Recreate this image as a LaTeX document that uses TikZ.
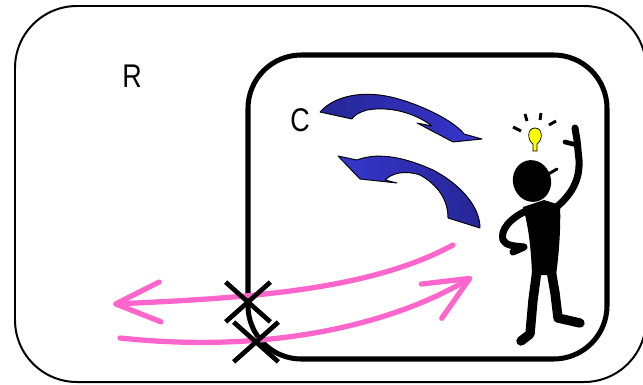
\documentclass[tikz,border=0pt]{standalone}
\usepackage{fontspec}
\setmainfont{Liberation Sans}
\usetikzlibrary{arrows.meta,shapes.misc}
\definecolor{pinkline}{RGB}{255,102,204}
\definecolor{ribbon}{RGB}{54,54,206}
\definecolor{ribbondark}{RGB}{38,38,150}
\definecolor{bulbyellow}{RGB}{255,255,0}

\begin{document}
\begin{tikzpicture}[x=0.03cm, y=-0.03cm,
    letter/.style={font=\fontsize{28}{32}\selectfont, inner sep=0pt},
    pinkarrow/.style={draw=pinkline, line width=4.5pt, line cap=round,
        -{Straight Barb[length=38pt,width=34pt,round]}},
    stopmark/.style={cross out, draw, line width=4pt, minimum width=1.2cm,
        minimum height=1.05cm, inner sep=0pt},
    ribbonarrow/.style={draw=black, line width=0.8pt, line join=round},
    limb/.style={line width=6pt, line cap=round, line join=round}]

    \useasboundingbox (0,0) rectangle (643,384);

    % Rahmen aussen und innen
    \draw[line width=1.7pt, rounded corners=1.86cm] (15,6) rectangle (646,382);
    \draw[line width=4.3pt, rounded corners=1.6cm] (248,55) rectangle (607,359);

    % Beschriftungen
    \node[letter] (R) at (132,76) {\scalebox{0.82}[1]{R}};
    \node[letter] (C) at (300,120) {\scalebox{0.82}[1]{C}};

    % blaue Pfeile
    \draw[ribbonarrow, left color=ribbondark, right color=ribbon]
        (320,112) .. controls (335,95) and (365,90) .. (395,98)
        .. controls (425,106) and (455,122) .. (464,134)
        -- (482,139) -- (453,142) -- (417,123) -- (432,126)
        .. controls (415,113) and (390,106) .. (367,110)
        .. controls (360,112) and (354,115) .. (352,119) -- cycle;
    \draw[ribbonarrow, left color=ribbon, right color=ribbondark]
        (338,156) -- (357,160)
        .. controls (375,153) and (400,155) .. (433,170)
        .. controls (458,183) and (480,205) .. (480,228)
        -- (448,218) .. controls (448,200) and (438,185) .. (420,175)
        .. controls (405,170) and (392,173) .. (385,180)
        -- (397,183) -- (360,179) -- cycle;

    % rosa Pfeile
    \coordinate (outS) at (453,245);
    \coordinate (outE) at (113,304);
    \coordinate (inS) at (120,338);
    \coordinate (inE) at (472,277);
    \draw[pinkarrow] (outS) .. controls (370,290) and (250,298) .. (outE);
    \draw[pinkarrow] (inS) .. controls (280,355) and (400,320) .. (inE);

    % Kreuze
    \node[stopmark] (x1) at (248,302) {};
    \node[stopmark] (x2) at (256,342) {};

    % Gluehbirne
    \draw[fill=bulbyellow, line width=0.6pt] (533,151) -- (533,144)
        .. controls (527,140) and (527,128) .. (535,128)
        .. controls (543,128) and (543,140) .. (537,144) -- (537,151) -- cycle;
    \draw[line width=2.5pt] (513,127) -- (521,131) (525,114) -- (527,121)
        (541,113) -- (540,120) (549,125) -- (556,121);

    % Figur
    \fill[rotate around={15:(532,181)}] (532,181) ellipse [x radius=19, y radius=21];
    \draw[line width=2.5pt, line cap=round] (545,176) -- (557,169);
    \fill[line join=round] (523,207) -- (544,200) -- (560,205)
        .. controls (561,225) and (559,255) .. (556,275) -- (532,275)
        .. controls (531,245) and (528,225) .. (523,207) -- cycle;
    \draw[limb] (553,210) .. controls (572,195) and (580,180) .. (579,160)
        -- (577,140) -- (575,128);
    \draw[limb, line width=4pt] (577,145) -- (565,142);
    \draw[limb] (528,210) .. controls (510,218) and (500,230) .. (503,240)
        .. controls (506,246) and (515,246) .. (524,247) -- (513,252);
    \draw[limb, line width=8pt] (537,270) -- (533,300) -- (530,334) -- (521,341);
    \draw[limb, line width=8pt] (551,270) -- (555,293) -- (558,318) -- (580,323);
\end{tikzpicture}
\end{document}
